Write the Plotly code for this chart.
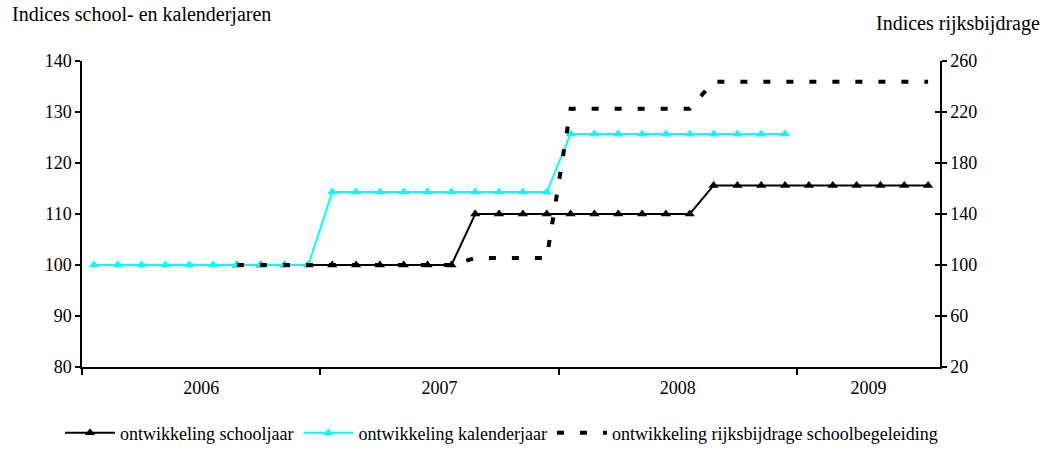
import plotly.graph_objects as go

# ---- data ----
years = ["2006"] * 10 + ["2007"] * 10 + ["2008"] * 10 + ["2009"] * 6
periods = [f"{y}-{k}" for y, k in zip(years, [1,2,3,4,5,6,7,8,9,10]*3 + [1,2,3,4,5,6])]
year_labels = ["2006", "2007", "2008", "2009"]

schooljaar = [None, None, None, None, None, None,
              100, 100, 100, 100, 100, 100, 100, 100, 100, 100,
              110, 110, 110, 110, 110, 110, 110, 110, 110, 110,
              115.6, 115.6, 115.6, 115.6, 115.6, 115.6, 115.6, 115.6, 115.6, 115.6]
kalenderjaar = [100, 100, 100, 100, 100, 100, 100, 100, 100, 100,
                114.3, 114.3, 114.3, 114.3, 114.3, 114.3, 114.3, 114.3, 114.3, 114.3,
                125.7, 125.7, 125.7, 125.7, 125.7, 125.7, 125.7, 125.7, 125.7, 125.7,
                None, None, None, None, None, None]
rijksbijdrage = [None, None, None, None, None, None,
                 100, 100, 100, 100, 100, 100, 100, 100, 100, 100,
                 105.5, 105.5, 105.5, 105.5,
                 222.5, 222.5, 222.5, 222.5, 222.5, 222.5,
                 243.8, 243.8, 243.8, 243.8, 243.8, 243.8, 243.8, 243.8, 243.8, 243.8]

x = list(range(len(periods)))

# year label centres and year boundaries derived from the category list
centres, bounds = [], [-0.5]
for yl in year_labels:
    idx = [i for i, y in enumerate(years) if y == yl]
    centres.append((idx[0] + idx[-1]) / 2)
    if idx[-1] < len(years) - 1:
        bounds.append(idx[-1] + 0.5)

FONT = "Liberation Serif, Times New Roman, serif"

fig = go.Figure()
fig.add_trace(go.Scatter(
    x=x, y=schooljaar, name="ontwikkeling schooljaar", mode="lines+markers",
    line=dict(color="black", width=2),
    marker=dict(symbol="triangle-up", size=9, color="black"),
))
fig.add_trace(go.Scatter(
    x=x, y=kalenderjaar, name="ontwikkeling kalenderjaar", mode="lines+markers",
    line=dict(color="#00FFFF", width=2),
    marker=dict(symbol="triangle-up", size=9, color="#00FFFF"),
))
fig.add_trace(go.Scatter(
    x=x, y=rijksbijdrage, name="ontwikkeling rijksbijdrage schoolbegeleiding", mode="lines",
    line=dict(color="black", width=4, dash="7px,16px"),
    yaxis="y2",
))
# invisible trace to activate the inner tick axis
fig.add_trace(go.Scatter(x=[None], y=[None], yaxis="y3", showlegend=False, hoverinfo="skip"))

fig.update_layout(
    width=1051, height=464,
    margin=dict(l=82, r=111, t=61, b=97),
    paper_bgcolor="white", plot_bgcolor="white",
    font=dict(family=FONT, size=18, color="black"),
    showlegend=True,
    legend=dict(orientation="h", x=(60 - 82) / 858, xanchor="left",
                y=-0.276, yanchor="bottom",
                itemwidth=50, font=dict(size=18), tracegroupgap=0),
    xaxis=dict(
        range=[-0.5, len(periods) - 0.5], showgrid=False, zeroline=False, automargin=False,
        showline=True, linecolor="black", linewidth=1.5,
        tickmode="array", tickvals=centres, ticktext=year_labels,
        ticks="outside", ticklen=4, tickcolor="rgba(0,0,0,0)",
        tickfont=dict(size=18),
        minor=dict(tickmode="array", tickvals=bounds, ticks="outside",
                   ticklen=6, tickcolor="black", tickwidth=1.5, showgrid=False),
    ),
    yaxis=dict(
        range=[80, 140], dtick=10, tick0=80, showgrid=False, zeroline=False, automargin=False,
        showline=True, linecolor="black", linewidth=1.5,
        ticks="outside", ticklen=5, tickwidth=1.5, tickcolor="black",
        tickfont=dict(size=18),
    ),
    yaxis2=dict(
        range=[20, 260], dtick=40, tick0=20, overlaying="y", side="right", automargin=False,
        showgrid=False, zeroline=False,
        showline=True, linecolor="black", linewidth=1.5,
        ticks="outside", ticklen=5, tickwidth=1.5, tickcolor="black",
        tickfont=dict(size=18),
    ),
    yaxis3=dict(
        range=[20, 260], dtick=40, tick0=20, overlaying="y", side="right", anchor="x",
        automargin=False,
        showgrid=False, zeroline=False, showline=False, showticklabels=False,
        ticks="inside", ticklen=5, tickwidth=1.5, tickcolor="black",
    ),
    annotations=[
        dict(text="Indices school- en kalenderjaren", xref="paper", yref="paper",
             x=(10 - 82) / 858, y=(367 - 14) / 306, xanchor="left", yanchor="middle",
             showarrow=False, font=dict(size=20)),
        dict(text="Indices rijksbijdrage", xref="paper", yref="paper",
             x=(1042 - 82) / 858, y=(367 - 23) / 306, xanchor="right", yanchor="middle",
             showarrow=False, font=dict(size=20)),
    ],
)

fig.write_html("out.html", config={"displayModeBar": False},
               post_script="document.body.style.margin='0px';")
